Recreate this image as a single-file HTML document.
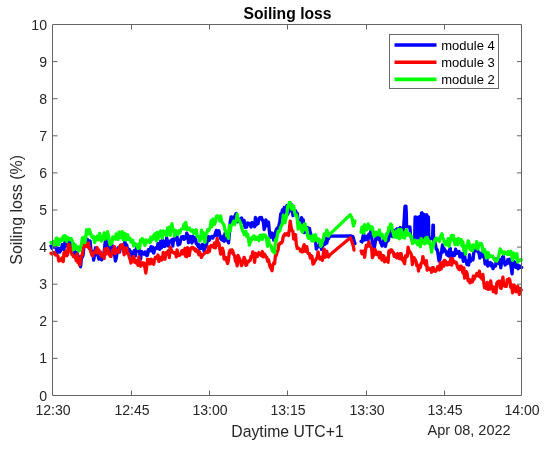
<!DOCTYPE html>
<html><head><meta charset="utf-8"><title>Soiling loss</title>
<style>html,body{margin:0;padding:0;background:#fff;}body{width:550px;height:449px;overflow:hidden;}svg{display:block;}</style>
</head><body>
<svg width="550" height="449" viewBox="0 0 550 449"><rect width="550" height="449" fill="#fff"/><polyline points="51.0,246.0 51.9,248.2 52.7,246.7 53.6,245.4 54.5,246.9 55.3,244.7 56.2,247.9 57.1,252.8 58.0,249.0 58.8,248.3 59.7,252.1 60.6,250.6 61.4,248.6 62.3,244.6 63.2,246.3 64.0,249.6 64.9,242.2 65.8,246.0 66.7,242.9 67.5,243.6 68.4,241.9 69.3,245.5 70.1,240.2 71.0,246.5 71.9,247.0 72.7,247.3 73.6,244.0 74.5,253.1 75.4,256.6 76.2,258.0 77.1,252.6 78.0,256.2 78.8,256.7 79.7,259.5 80.6,266.8 81.4,258.2 82.3,257.1 83.2,254.6 84.1,244.9 84.9,244.3 85.8,243.6 86.7,243.1 87.5,239.3 88.4,243.0 89.3,248.5 90.1,240.9 91.0,250.6 91.9,253.5 92.8,251.5 93.6,260.2 94.5,255.6 95.4,248.0 96.2,250.7 97.1,254.0 98.0,255.6 98.8,259.1 99.7,257.2 100.6,258.6 101.5,259.9 102.3,254.2 103.2,258.3 104.1,252.1 104.9,244.4 105.8,239.1 106.7,241.5 107.5,245.6 108.4,251.1 109.3,252.7 110.2,245.8 111.0,247.6 111.9,253.4 112.8,245.8 113.6,251.0 114.5,254.4 115.4,261.1 116.2,258.2 117.1,252.8 118.0,247.9 118.9,247.3 119.7,252.0 120.6,245.1 121.5,245.8 122.3,248.4 123.2,246.4 124.1,244.6 124.9,241.6 125.8,245.4 126.7,244.9 127.6,249.9 128.4,250.7 129.3,249.4 130.2,252.9 131.0,251.7 131.9,255.7 132.8,252.3 133.6,255.7 134.5,250.5 135.4,256.1 136.3,249.7 137.1,246.5 138.0,250.9 138.9,248.4 139.7,253.2 140.6,259.2 141.5,251.5 142.3,252.3 143.2,253.2 144.1,254.3 145.0,251.9 145.8,252.1 146.7,255.7 147.6,255.1 148.4,249.6 149.3,251.0 150.2,250.0 151.0,246.7 151.9,251.1 152.8,247.2 153.7,253.2 154.5,250.2 155.4,248.4 156.3,247.6 157.1,248.4 158.0,243.6 158.9,245.7 159.7,249.3 160.6,241.4 161.5,247.9 162.4,240.1 163.2,246.4 164.1,241.5 165.0,246.5 165.8,243.0 166.7,237.6 167.6,245.2 168.4,245.9 169.3,241.1 170.2,241.4 171.1,241.5 171.9,239.7 172.8,246.0 173.7,238.8 174.5,240.2 175.4,237.1 176.3,237.4 177.1,236.9 178.0,245.1 178.9,240.4 179.8,244.2 180.6,240.3 181.5,236.9 182.4,237.8 183.2,236.6 184.1,239.4 185.0,238.4 185.8,237.5 186.7,233.2 187.6,235.4 188.5,242.7 189.3,236.5 190.2,236.5 191.1,239.5 191.9,243.0 192.8,236.5 193.7,241.0 194.5,240.1 195.4,237.5 196.3,243.8 197.2,243.6 198.0,246.3 198.9,244.7 199.8,249.0 200.6,246.0 201.5,248.3 202.4,244.4 203.2,244.7 204.1,251.3 205.0,245.0 205.9,247.1 206.7,243.6 207.6,240.2 208.5,236.7 209.3,240.4 210.2,237.1 211.1,237.0 211.9,236.5 212.8,238.1 213.7,236.2 214.6,235.8 215.4,233.1 216.3,230.4 217.2,235.5 218.0,234.1 218.9,230.8 219.8,234.8 220.6,238.5 221.5,239.6 222.4,240.3 223.3,236.1 224.1,241.3 225.0,233.5 225.9,240.2 226.7,238.0 227.6,239.9 228.5,242.8 229.3,235.4 230.2,221.8 231.1,216.9 232.0,223.5 232.8,217.2 233.7,219.1 234.6,221.4 235.4,214.7 236.3,213.5 237.2,221.8 238.0,220.7 238.9,220.1 239.8,222.2 240.7,218.6 241.5,217.9 242.4,222.7 243.3,220.7 244.1,220.4 245.0,227.4 245.9,225.8 246.7,227.1 247.6,222.8 248.5,224.4 249.4,223.6 250.2,224.7 251.1,227.1 252.0,222.7 252.8,225.2 253.7,224.0 254.6,226.7 255.4,217.3 256.3,225.0 257.2,222.1 258.1,223.6 258.9,218.5 259.8,217.6 260.7,218.8 261.5,217.5 262.4,220.2 263.3,221.7 264.1,229.5 265.0,226.7 265.9,219.8 266.8,225.7 267.6,223.2 268.5,222.0 269.4,231.6 270.2,237.4 271.1,236.6 272.0,233.0 272.8,234.5 273.7,240.2 274.6,234.7 275.5,231.9 276.3,229.4 277.2,228.1 278.1,228.2 278.9,225.5 279.8,222.0 280.7,213.9 281.5,214.7 282.4,209.9 283.3,214.4 284.2,207.4 285.0,211.4 285.9,210.6 286.8,205.7 287.6,214.4 288.5,212.4 289.4,207.4 290.2,210.9 291.1,210.5 292.0,204.9 292.9,215.6 293.7,213.5 294.6,214.5 295.5,210.6 296.3,213.4 297.2,213.2 298.1,220.2 298.9,221.1 299.8,221.5 300.7,224.8 301.6,217.6 302.4,221.1 303.3,219.8 304.2,232.7 305.0,231.9 305.9,232.5 306.8,229.4 307.6,227.7 308.5,228.6 309.4,228.4 310.3,232.7 311.1,234.8 312.0,239.3 312.9,238.0 313.7,239.3 314.6,240.4 315.5,241.1 316.3,249.0 317.2,247.3 318.1,247.0 319.0,246.0 319.8,243.5 320.7,246.5 321.6,249.4 322.4,246.0 323.3,245.2 324.2,243.7 325.0,244.2 325.9,238.2 326.8,243.1 327.7,238.8 328.5,239.0 328.9,238.0 330.0,236.2 351.3,236.0 352.9,236.5 354.5,242.5 355.0,243.5" fill="none" stroke="#0000ff" stroke-width="3.3" stroke-linejoin="round" stroke-linecap="round"/><polyline points="361.1,241.4 362.0,241.9 362.8,237.2 363.7,233.3 364.6,240.0 365.5,238.7 366.3,239.5 367.2,236.2 368.1,239.7 368.9,234.1 369.8,236.8 370.7,231.5 371.5,236.2 372.4,242.8 373.3,245.4 374.2,248.7 375.0,244.0 375.9,237.6 376.8,238.8 377.6,236.6 378.5,239.3 379.4,237.8 380.2,241.5 381.1,243.7 382.0,246.0 382.9,244.6 383.7,240.1 384.6,242.6 385.5,246.5 386.3,242.3 387.2,239.8 388.1,240.8 388.9,238.0 389.8,232.4 390.7,228.6 391.6,228.8 392.4,236.6 393.3,230.7 394.2,230.3 395.0,230.5 395.9,230.9 396.8,229.0 397.6,233.1 398.5,228.7 399.4,231.0 400.3,227.5 401.1,233.2 402.0,231.4 402.9,232.8 403.3,231.8 404.4,216.0 405.0,206.2 406.0,206.2 406.4,216.0 406.6,226.6 408.5,226.8 409.9,226.8 410.6,236.0 412.4,241.0 414.6,238.0 415.1,217.0 415.9,238.0 416.6,217.2 417.4,238.0 418.2,217.4 419.0,238.0 419.8,216.4 420.6,238.0 421.4,213.2 422.0,212.8 422.6,238.0 423.4,214.2 424.2,238.0 425.0,215.0 425.8,238.0 426.6,214.6 427.4,238.0 428.4,217.0 428.9,240.0 430.5,238.0 432.6,239.0 432.9,225.2 433.4,225.2 433.6,240.5 433.8,241.5 434.7,241.4 435.5,244.8 436.4,249.4 437.3,249.6 438.2,255.4 439.0,260.9 439.9,259.2 440.8,254.5 441.6,251.1 442.5,244.9 443.4,251.8 444.2,248.7 445.1,250.4 446.0,251.2 446.9,254.9 447.7,254.9 448.6,255.9 449.5,249.7 450.3,248.4 451.2,258.9 452.1,252.7 452.9,252.9 453.8,255.7 454.7,255.2 455.6,249.2 456.4,251.1 457.3,253.3 458.2,251.8 459.0,251.5 459.9,257.0 460.8,253.2 461.6,256.6 462.5,255.7 463.4,261.4 464.3,252.4 465.1,259.2 466.0,260.4 466.9,264.5 467.7,263.4 468.6,265.1 469.5,254.7 470.3,261.5 471.2,259.4 472.1,258.5 473.0,259.9 473.8,252.8 474.7,246.6 475.6,250.9 476.4,247.3 477.3,248.8 478.2,252.1 479.0,253.0 479.9,258.1 480.8,255.0 481.7,252.8 482.5,255.2 483.4,256.9 484.3,257.2 485.1,264.1 486.0,262.4 486.9,258.4 487.7,266.1 488.6,263.6 489.5,263.8 490.4,262.5 491.2,266.0 492.1,263.7 493.0,268.7 493.8,266.9 494.7,266.1 495.6,266.1 496.4,258.8 497.3,263.0 498.2,262.5 499.1,263.7 499.9,259.6 500.8,267.8 501.7,260.9 502.5,257.1 503.4,256.4 504.3,262.1 505.1,265.0 506.0,262.9 506.9,263.4 507.8,259.6 508.6,263.0 509.5,259.3 510.4,261.7 511.2,267.7 512.1,273.9 513.0,261.1 513.8,263.9 514.7,262.0 515.6,267.3 516.5,262.9 517.3,266.0 518.2,268.8 519.1,265.8 519.9,266.0 520.8,267.3 521.7,267.5" fill="none" stroke="#0000ff" stroke-width="3.3" stroke-linejoin="round" stroke-linecap="round"/><polyline points="51.0,253.3 51.9,254.1 52.7,253.4 53.6,252.3 54.5,252.6 55.3,254.9 56.2,255.1 57.1,255.2 58.0,256.1 58.8,261.1 59.7,259.0 60.6,259.5 61.4,260.5 62.3,257.6 63.2,261.6 64.0,252.7 64.9,255.6 65.8,251.3 66.7,255.8 67.5,254.8 68.4,244.2 69.3,245.2 70.1,247.6 71.0,251.6 71.9,254.4 72.7,254.9 73.6,256.9 74.5,256.8 75.4,256.6 76.2,260.6 77.1,253.8 78.0,262.9 78.8,259.1 79.7,265.2 80.6,259.6 81.4,255.7 82.3,255.0 83.2,247.8 84.1,244.9 84.9,242.4 85.8,246.3 86.7,245.8 87.5,246.9 88.4,242.9 89.3,247.3 90.1,249.2 91.0,252.0 91.9,254.9 92.8,255.7 93.6,252.5 94.5,251.9 95.4,251.5 96.2,252.4 97.1,247.5 98.0,253.1 98.8,249.8 99.7,253.4 100.6,252.1 101.5,256.2 102.3,256.1 103.2,254.5 104.1,258.5 104.9,248.9 105.8,254.1 106.7,251.8 107.5,248.4 108.4,251.4 109.3,254.8 110.2,256.0 111.0,256.5 111.9,253.8 112.8,249.9 113.6,252.4 114.5,246.6 115.4,253.5 116.2,250.0 117.1,250.4 118.0,251.6 118.9,252.2 119.7,246.6 120.6,245.4 121.5,246.9 122.3,244.6 123.2,248.0 124.1,254.9 124.9,248.1 125.8,253.0 126.7,248.2 127.6,253.4 128.4,253.8 129.3,257.0 130.2,259.6 131.0,263.0 131.9,259.5 132.8,258.5 133.6,256.5 134.5,262.2 135.4,260.0 136.3,262.9 137.1,260.7 138.0,265.4 138.9,256.9 139.7,262.1 140.6,266.2 141.5,263.5 142.3,262.8 143.2,264.8 144.1,263.1 145.0,268.1 145.8,273.1 146.7,267.1 147.6,259.3 148.4,259.3 149.3,260.3 150.2,264.0 151.0,259.1 151.9,259.9 152.8,263.4 153.7,264.2 154.5,259.7 155.4,257.2 156.3,257.5 157.1,258.6 158.0,255.0 158.9,261.4 159.7,257.2 160.6,258.8 161.5,260.1 162.4,259.4 163.2,252.5 164.1,258.3 165.0,259.2 165.8,253.0 166.7,252.2 167.6,254.1 168.4,250.8 169.3,257.6 170.2,247.2 171.1,249.3 171.9,251.3 172.8,252.3 173.7,252.5 174.5,253.3 175.4,252.4 176.3,256.8 177.1,249.8 178.0,255.7 178.9,254.8 179.8,255.3 180.6,254.3 181.5,251.4 182.4,250.4 183.2,254.0 184.1,251.9 185.0,248.4 185.8,256.5 186.7,256.8 187.6,247.6 188.5,251.6 189.3,255.4 190.2,249.7 191.1,247.9 191.9,247.5 192.8,247.5 193.7,249.1 194.5,248.4 195.4,251.0 196.3,249.7 197.2,251.7 198.0,250.7 198.9,254.8 199.8,252.5 200.6,254.6 201.5,257.4 202.4,255.2 203.2,254.6 204.1,253.7 205.0,252.8 205.9,251.8 206.7,251.4 207.6,252.6 208.5,247.0 209.3,251.6 210.2,247.2 211.1,245.6 211.9,246.1 212.8,245.3 213.7,247.3 214.6,242.8 215.4,247.9 216.3,243.7 217.2,238.5 218.0,245.5 218.9,243.1 219.8,248.9 220.6,254.1 221.5,252.5 222.4,248.2 223.3,251.2 224.1,259.1 225.0,257.3 225.9,257.6 226.7,260.8 227.6,263.5 228.5,259.9 229.3,252.3 230.2,250.1 231.1,252.7 232.0,249.9 232.8,251.1 233.7,254.7 234.6,255.7 235.4,261.2 236.3,261.5 237.2,265.9 238.0,255.4 238.9,257.5 239.8,259.2 240.7,262.4 241.5,265.7 242.4,263.3 243.3,261.2 244.1,257.4 245.0,259.4 245.9,265.4 246.7,264.9 247.6,261.5 248.5,261.8 249.4,260.3 250.2,260.3 251.1,256.5 252.0,256.5 252.8,251.8 253.7,253.9 254.6,262.3 255.4,253.4 256.3,256.5 257.2,256.7 258.1,254.0 258.9,252.6 259.8,254.2 260.7,255.0 261.5,255.7 262.4,251.5 263.3,256.9 264.1,253.8 265.0,254.9 265.9,257.0 266.8,257.3 267.6,261.1 268.5,259.7 269.4,264.3 270.2,267.1 271.1,268.5 272.0,270.7 272.8,265.1 273.7,263.0 274.6,263.6 275.5,255.1 276.3,255.3 277.2,251.7 278.1,250.0 278.9,243.9 279.8,244.0 280.7,242.6 281.5,243.0 282.4,241.4 283.3,236.3 284.2,235.1 285.0,233.8 285.9,235.0 286.8,233.8 287.6,234.9 288.5,235.4 289.4,229.0 290.2,221.1 291.1,227.3 292.0,230.4 292.9,231.2 293.7,239.1 294.6,238.1 295.5,234.7 296.3,243.7 297.2,248.4 298.1,248.0 298.9,248.4 299.8,249.2 300.7,251.5 301.6,250.3 302.4,251.9 303.3,246.8 304.2,244.7 305.0,251.2 305.9,251.4 306.8,246.7 307.6,252.4 308.5,253.7 309.4,253.6 310.3,258.2 311.1,255.6 312.0,256.3 312.9,264.0 313.7,263.5 314.6,261.7 315.5,260.1 316.3,259.0 317.2,257.2 318.1,251.8 319.0,257.7 319.8,259.0 320.7,257.5 321.6,258.7 322.4,260.3 323.3,253.7 324.2,249.1 325.0,257.4 325.9,251.9 326.8,251.3 327.7,256.3 328.5,257.0 329.4,255.7 330.0,254.7 350.3,237.8 351.8,241.4 353.5,246.8 354.0,250.1" fill="none" stroke="#ff0000" stroke-width="3.3" stroke-linejoin="round" stroke-linecap="round"/><polyline points="361.1,251.1 362.0,253.8 362.8,251.8 363.7,251.0 364.6,257.3 365.5,250.4 366.3,245.3 367.2,246.6 368.1,244.3 368.9,242.1 369.8,246.0 370.7,247.0 371.5,247.9 372.4,257.5 373.3,255.7 374.2,254.3 375.0,249.3 375.9,252.4 376.8,254.7 377.6,254.6 378.5,252.1 379.4,257.8 380.2,252.5 381.1,255.8 382.0,260.1 382.9,255.6 383.7,255.8 384.6,261.9 385.5,258.5 386.3,258.2 387.2,261.2 388.1,262.2 388.9,250.8 389.8,252.9 390.7,250.0 391.6,249.9 392.4,251.5 393.3,252.2 394.2,256.3 395.0,254.2 395.9,256.8 396.8,257.8 397.6,253.7 398.5,254.5 399.4,258.7 400.3,253.6 401.1,253.6 402.0,259.8 402.9,258.2 403.7,261.6 404.6,263.7 405.5,255.8 406.3,256.0 407.2,256.5 408.1,247.1 409.0,251.7 409.8,251.5 410.7,253.2 411.6,255.6 412.4,264.5 413.3,257.5 414.2,257.8 415.0,259.2 415.9,261.2 416.8,265.6 417.7,264.9 418.5,271.1 419.4,265.5 420.3,267.4 421.1,263.4 422.0,262.5 422.9,256.6 423.7,261.1 424.6,263.2 425.5,264.8 426.4,260.6 427.2,270.2 428.1,268.0 429.0,268.1 429.8,269.5 430.7,269.4 431.6,272.2 432.4,267.6 433.3,267.7 434.2,271.0 435.1,271.3 435.9,271.1 436.8,269.1 437.7,266.8 438.5,267.4 439.4,270.0 440.3,262.8 441.1,269.0 442.0,265.7 442.9,262.0 443.8,266.2 444.6,260.3 445.5,261.4 446.4,262.5 447.2,264.9 448.1,264.6 449.0,262.2 449.8,264.3 450.7,258.4 451.6,265.2 452.5,259.0 453.3,260.8 454.2,262.5 455.1,261.9 455.9,262.3 456.8,264.3 457.7,267.5 458.5,268.6 459.4,269.7 460.3,266.1 461.2,266.2 462.0,267.9 462.9,273.0 463.8,267.8 464.6,278.1 465.5,275.4 466.4,271.5 467.2,274.0 468.1,280.8 469.0,279.3 469.9,282.8 470.7,280.0 471.6,282.1 472.5,281.8 473.3,276.2 474.2,279.1 475.1,275.9 475.9,276.1 476.8,273.5 477.7,274.3 478.6,276.1 479.4,271.1 480.3,277.2 481.2,277.1 482.0,279.1 482.9,274.3 483.8,282.8 484.6,287.9 485.5,286.1 486.4,288.6 487.3,282.3 488.1,289.4 489.0,285.3 489.9,289.1 490.7,280.9 491.6,287.8 492.5,286.6 493.3,291.8 494.2,287.7 495.1,287.1 496.0,293.1 496.8,283.2 497.7,281.9 498.6,281.2 499.4,281.2 500.3,287.8 501.2,288.4 502.0,281.3 502.9,277.1 503.8,285.0 504.7,286.2 505.5,286.3 506.4,286.3 507.3,279.6 508.1,281.0 509.0,278.8 509.9,280.4 510.7,287.2 511.6,284.7 512.5,292.8 513.4,286.5 514.2,285.1 515.1,289.1 516.0,291.8 516.8,289.1 517.7,286.3 518.6,291.6 519.4,294.3 520.3,288.3 521.2,290.0" fill="none" stroke="#ff0000" stroke-width="3.3" stroke-linejoin="round" stroke-linecap="round"/><polyline points="51.0,242.4 51.9,243.3 52.7,242.3 53.6,241.6 54.5,245.0 55.3,244.9 56.2,238.4 57.1,238.1 58.0,244.4 58.8,244.7 59.7,240.0 60.6,239.0 61.4,240.7 62.3,239.8 63.2,236.3 64.0,239.8 64.9,235.7 65.8,236.3 66.7,241.5 67.5,237.3 68.4,238.2 69.3,238.8 70.1,239.8 71.0,238.4 71.9,240.4 72.7,241.6 73.6,249.9 74.5,248.6 75.4,244.9 76.2,247.4 77.1,248.9 78.0,246.9 78.8,251.0 79.7,250.6 80.6,246.0 81.4,245.2 82.3,238.0 83.2,240.1 84.1,237.2 84.9,242.6 85.8,236.7 86.7,229.7 87.5,233.0 88.4,233.9 89.3,229.5 90.1,231.6 91.0,234.4 91.9,237.1 92.8,237.3 93.6,236.6 94.5,242.6 95.4,240.4 96.2,239.7 97.1,236.1 98.0,236.0 98.8,239.8 99.7,233.5 100.6,238.1 101.5,241.0 102.3,238.7 103.2,238.1 104.1,232.9 104.9,239.2 105.8,237.9 106.7,235.6 107.5,231.7 108.4,235.3 109.3,241.6 110.2,244.7 111.0,242.3 111.9,242.9 112.8,236.8 113.6,237.4 114.5,237.7 115.4,239.1 116.2,233.8 117.1,239.0 118.0,239.4 118.9,232.1 119.7,232.2 120.6,237.7 121.5,235.9 122.3,231.7 123.2,239.8 124.1,237.6 124.9,233.4 125.8,240.0 126.7,235.6 127.6,234.8 128.4,239.7 129.3,237.7 130.2,238.9 131.0,242.0 131.9,240.3 132.8,240.3 133.6,246.0 134.5,243.5 135.4,244.0 136.3,244.7 137.1,245.5 138.0,248.4 138.9,243.9 139.7,247.8 140.6,239.8 141.5,241.9 142.3,238.7 143.2,240.9 144.1,243.1 145.0,245.3 145.8,240.0 146.7,242.6 147.6,241.7 148.4,241.6 149.3,239.7 150.2,242.5 151.0,237.1 151.9,239.9 152.8,239.2 153.7,235.7 154.5,234.3 155.4,233.8 156.3,240.9 157.1,232.4 158.0,239.2 158.9,235.6 159.7,232.8 160.6,231.0 161.5,236.3 162.4,238.1 163.2,230.9 164.1,231.7 165.0,234.3 165.8,231.5 166.7,235.5 167.6,228.0 168.4,231.7 169.3,227.1 170.2,235.3 171.1,227.8 171.9,223.7 172.8,229.2 173.7,229.5 174.5,236.0 175.4,230.3 176.3,232.0 177.1,233.9 178.0,234.4 178.9,230.8 179.8,232.6 180.6,230.8 181.5,229.0 182.4,228.7 183.2,228.0 184.1,224.2 185.0,228.9 185.8,222.3 186.7,229.3 187.6,229.6 188.5,228.5 189.3,227.9 190.2,229.7 191.1,231.0 191.9,231.2 192.8,230.0 193.7,233.4 194.5,230.7 195.4,233.1 196.3,229.8 197.2,236.9 198.0,236.7 198.9,236.9 199.8,241.1 200.6,239.2 201.5,230.2 202.4,236.6 203.2,232.6 204.1,239.6 205.0,242.3 205.9,233.9 206.7,233.2 207.6,229.8 208.5,230.6 209.3,229.4 210.2,227.5 211.1,220.6 211.9,226.5 212.8,219.1 213.7,223.2 214.6,224.2 215.4,222.0 216.3,216.6 217.2,215.8 218.0,216.8 218.9,217.7 219.8,221.0 220.6,215.9 221.5,221.0 222.4,222.8 223.3,224.0 224.1,225.4 225.0,230.2 225.9,231.7 226.7,235.8 227.6,235.5 228.5,238.2 229.3,225.5 230.2,230.9 231.1,225.5 232.0,224.8 232.8,223.2 233.7,221.1 234.6,224.6 235.4,221.9 236.3,221.1 237.2,214.2 238.0,220.5 238.9,219.8 239.8,221.7 240.7,223.3 241.5,227.3 242.4,230.3 243.3,231.6 244.1,234.5 245.0,234.3 245.9,231.4 246.7,236.2 247.6,234.3 248.5,238.9 249.4,245.1 250.2,242.0 251.1,241.2 252.0,237.4 252.8,238.1 253.7,235.9 254.6,239.2 255.4,236.9 256.3,239.2 257.2,237.7 258.1,238.4 258.9,240.8 259.8,235.3 260.7,235.1 261.5,235.6 262.4,239.5 263.3,234.9 264.1,236.0 265.0,235.0 265.9,236.1 266.8,240.5 267.6,246.3 268.5,238.4 269.4,245.2 270.2,245.3 271.1,245.8 272.0,249.4 272.8,251.5 273.7,250.2 274.6,252.9 275.5,239.7 276.3,241.3 277.2,236.4 278.1,231.4 278.9,231.7 279.8,230.8 280.7,227.1 281.5,225.6 282.4,223.5 283.3,215.2 284.2,222.3 285.0,222.7 285.9,218.1 286.8,215.6 287.6,206.1 288.5,205.9 289.4,202.4 290.2,202.4 291.1,208.8 292.0,205.4 292.9,209.3 293.7,206.0 294.6,211.9 295.5,215.3 296.3,214.7 297.2,218.0 298.1,229.0 298.9,222.3 299.8,224.0 300.7,225.5 301.6,230.1 302.4,232.3 303.3,226.8 304.2,224.1 305.0,223.8 305.9,230.1 306.8,228.5 307.6,236.0 308.5,238.4 309.4,236.1 310.3,237.4 311.1,239.1 312.0,240.9 312.9,235.2 313.7,241.1 314.6,236.1 315.5,234.8 316.3,238.1 317.2,240.6 318.1,240.2 319.0,239.0 319.8,241.6 320.7,246.3 321.6,244.9 322.4,240.4 323.3,240.1 324.2,234.0 325.0,234.8 325.9,234.6 326.8,230.2 327.7,232.2 328.5,236.1 328.9,235.1 350.2,214.7 352.0,218.0 353.5,226.0 355.0,221.0" fill="none" stroke="#00ff00" stroke-width="3.3" stroke-linejoin="round" stroke-linecap="round"/><polyline points="361.1,232.1 362.0,227.1 362.8,226.7 363.7,233.2 364.6,224.7 365.5,228.5 366.3,229.9 367.2,229.5 368.1,224.0 368.9,225.3 369.8,226.8 370.7,229.1 371.5,226.8 372.4,227.5 373.3,233.6 374.2,236.2 375.0,235.8 375.9,232.3 376.8,234.5 377.6,233.7 378.5,234.6 379.4,229.9 380.2,235.1 381.1,235.7 382.0,234.3 382.9,237.8 383.7,238.1 384.6,237.8 385.5,240.6 386.3,233.9 387.2,234.4 388.1,232.0 388.9,227.0 389.8,227.5 390.7,224.0 391.6,225.1 392.4,231.1 393.3,232.7 394.2,237.1 395.0,234.2 395.9,231.2 396.8,237.5 397.6,232.8 398.5,229.4 399.4,238.8 400.3,230.5 401.1,229.5 402.0,231.7 402.9,237.7 403.7,235.5 404.6,238.1 405.5,231.8 406.3,229.7 407.2,235.1 408.1,235.2 409.0,233.4 409.8,234.4 410.7,236.2 411.6,236.3 412.4,243.6 413.3,241.7 414.2,241.4 415.0,240.3 415.9,242.7 416.8,242.4 417.7,244.6 418.5,241.1 419.4,244.1 420.3,246.7 421.1,238.6 422.0,239.3 422.9,241.9 423.7,243.3 424.6,243.9 425.5,238.2 426.4,242.9 427.2,237.4 428.1,239.6 429.0,243.4 429.8,241.5 430.7,246.0 431.6,252.2 432.4,245.8 433.3,246.0 434.2,240.5 435.1,240.3 435.9,238.1 436.8,240.2 437.7,238.8 438.5,240.5 439.4,241.5 440.3,237.5 441.1,235.6 442.0,233.8 442.9,238.6 443.8,239.8 444.6,243.5 445.5,244.8 446.4,241.6 447.2,244.7 448.1,238.6 449.0,246.4 449.8,242.6 450.7,237.8 451.6,235.4 452.5,239.8 453.3,235.4 454.2,239.6 455.1,244.7 455.9,241.5 456.8,239.5 457.7,244.7 458.5,238.3 459.4,242.7 460.3,241.7 461.2,239.6 462.0,246.1 462.9,241.8 463.8,250.5 464.6,247.0 465.5,254.2 466.4,245.6 467.2,247.3 468.1,240.9 469.0,243.0 469.9,249.0 470.7,250.2 471.6,245.7 472.5,250.6 473.3,244.9 474.2,246.7 475.1,246.0 475.9,247.7 476.8,241.6 477.7,249.2 478.6,246.7 479.4,244.2 480.3,243.4 481.2,243.6 482.0,245.0 482.9,251.7 483.8,250.2 484.6,249.5 485.5,252.1 486.4,258.0 487.3,253.5 488.1,252.4 489.0,257.2 489.9,255.2 490.7,255.8 491.6,256.4 492.5,256.0 493.3,257.7 494.2,259.6 495.1,259.8 496.0,261.0 496.8,261.0 497.7,258.9 498.6,256.7 499.4,252.6 500.3,248.9 501.2,252.4 502.0,251.2 502.9,252.8 503.8,253.9 504.7,252.0 505.5,253.1 506.4,253.8 507.3,254.5 508.1,251.7 509.0,254.4 509.9,252.8 510.7,251.2 511.6,255.1 512.5,260.4 513.4,253.0 514.2,257.1 515.1,257.2 516.0,258.0 516.8,253.6 517.7,262.1 518.6,260.1 519.4,259.8 520.3,260.4 521.2,259.6" fill="none" stroke="#00ff00" stroke-width="3.3" stroke-linejoin="round" stroke-linecap="round"/><path d="M52.5,24.5H521.5V395.5H52.5ZM131.5,395.5V390.5M131.5,24.5V29.5M209.5,395.5V390.5M209.5,24.5V29.5M287.5,395.5V390.5M287.5,24.5V29.5M366.5,395.5V390.5M366.5,24.5V29.5M444.5,395.5V390.5M444.5,24.5V29.5M52.5,358.4H57.5M521.5,358.4H517.0M52.5,321.3H57.5M521.5,321.3H517.0M52.5,284.2H57.5M521.5,284.2H517.0M52.5,247.1H57.5M521.5,247.1H517.0M52.5,210.0H57.5M521.5,210.0H517.0M52.5,172.9H57.5M521.5,172.9H517.0M52.5,135.8H57.5M521.5,135.8H517.0M52.5,98.7H57.5M521.5,98.7H517.0M52.5,61.6H57.5M521.5,61.6H517.0" fill="none" stroke="#646464" stroke-width="1"/><text transform="translate(53.0,414.9) scale(1.0,1.05)" text-anchor="middle" font-family="'Liberation Sans', Arial, sans-serif" font-size="14.1" fill="#262626">12:30</text><text transform="translate(132.0,414.9) scale(1.0,1.05)" text-anchor="middle" font-family="'Liberation Sans', Arial, sans-serif" font-size="14.1" fill="#262626">12:45</text><text transform="translate(210.0,414.9) scale(1.0,1.05)" text-anchor="middle" font-family="'Liberation Sans', Arial, sans-serif" font-size="14.1" fill="#262626">13:00</text><text transform="translate(288.0,414.9) scale(1.0,1.05)" text-anchor="middle" font-family="'Liberation Sans', Arial, sans-serif" font-size="14.1" fill="#262626">13:15</text><text transform="translate(367.0,414.9) scale(1.0,1.05)" text-anchor="middle" font-family="'Liberation Sans', Arial, sans-serif" font-size="14.1" fill="#262626">13:30</text><text transform="translate(445.0,414.9) scale(1.0,1.05)" text-anchor="middle" font-family="'Liberation Sans', Arial, sans-serif" font-size="14.1" fill="#262626">13:45</text><text transform="translate(522.0,414.9) scale(1.0,1.05)" text-anchor="middle" font-family="'Liberation Sans', Arial, sans-serif" font-size="14.1" fill="#262626">14:00</text><text transform="translate(47,400.5) scale(1.0,1.05)" text-anchor="end" font-family="'Liberation Sans', Arial, sans-serif" font-size="14.1" fill="#262626">0</text><text transform="translate(47,363.4) scale(1.0,1.05)" text-anchor="end" font-family="'Liberation Sans', Arial, sans-serif" font-size="14.1" fill="#262626">1</text><text transform="translate(47,326.3) scale(1.0,1.05)" text-anchor="end" font-family="'Liberation Sans', Arial, sans-serif" font-size="14.1" fill="#262626">2</text><text transform="translate(47,289.2) scale(1.0,1.05)" text-anchor="end" font-family="'Liberation Sans', Arial, sans-serif" font-size="14.1" fill="#262626">3</text><text transform="translate(47,252.1) scale(1.0,1.05)" text-anchor="end" font-family="'Liberation Sans', Arial, sans-serif" font-size="14.1" fill="#262626">4</text><text transform="translate(47,215.0) scale(1.0,1.05)" text-anchor="end" font-family="'Liberation Sans', Arial, sans-serif" font-size="14.1" fill="#262626">5</text><text transform="translate(47,177.9) scale(1.0,1.05)" text-anchor="end" font-family="'Liberation Sans', Arial, sans-serif" font-size="14.1" fill="#262626">6</text><text transform="translate(47,140.8) scale(1.0,1.05)" text-anchor="end" font-family="'Liberation Sans', Arial, sans-serif" font-size="14.1" fill="#262626">7</text><text transform="translate(47,103.7) scale(1.0,1.05)" text-anchor="end" font-family="'Liberation Sans', Arial, sans-serif" font-size="14.1" fill="#262626">8</text><text transform="translate(47,66.6) scale(1.0,1.05)" text-anchor="end" font-family="'Liberation Sans', Arial, sans-serif" font-size="14.1" fill="#262626">9</text><text transform="translate(47,29.5) scale(1.0,1.05)" text-anchor="end" font-family="'Liberation Sans', Arial, sans-serif" font-size="14.1" fill="#262626">10</text><text transform="translate(510.6,434.7) scale(1.0,1.05)" text-anchor="end" font-family="'Liberation Sans', Arial, sans-serif" font-size="14.5" fill="#262626">Apr 08, 2022</text><text transform="translate(287.5,436.8) scale(1.0,1.05)" text-anchor="middle" font-family="'Liberation Sans', Arial, sans-serif" font-size="15.75" fill="#262626">Daytime UTC+1</text><text transform="translate(21.5,209.9) rotate(-90) scale(1.015,1.0)" text-anchor="middle" font-family="'Liberation Sans', Arial, sans-serif" font-size="15.7" fill="#262626">Soiling loss (%)</text><text transform="translate(287.5,18.7) scale(1.0,1.05)" text-anchor="middle" font-family="'Liberation Sans', Arial, sans-serif" font-size="15.7" fill="#000" font-weight="bold">Soiling loss</text><rect x="389.5" y="34.5" width="109" height="54" fill="#fff" stroke="#6a6a6a" stroke-width="1"/><line x1="394.5" y1="45.0" x2="436.5" y2="45.0" stroke="#0000ff" stroke-width="3.6"/><text transform="translate(441.3,49.8) scale(1.0,1.04)" text-anchor="start" font-family="'Liberation Sans', Arial, sans-serif" font-size="13.0" fill="#000">module 4</text><line x1="394.5" y1="62.2" x2="436.5" y2="62.2" stroke="#ff0000" stroke-width="3.6"/><text transform="translate(441.3,67.0) scale(1.0,1.04)" text-anchor="start" font-family="'Liberation Sans', Arial, sans-serif" font-size="13.0" fill="#000">module 3</text><line x1="394.5" y1="79.4" x2="436.5" y2="79.4" stroke="#00ff00" stroke-width="3.6"/><text transform="translate(441.3,84.2) scale(1.0,1.04)" text-anchor="start" font-family="'Liberation Sans', Arial, sans-serif" font-size="13.0" fill="#000">module 2</text></svg>
</body></html>
